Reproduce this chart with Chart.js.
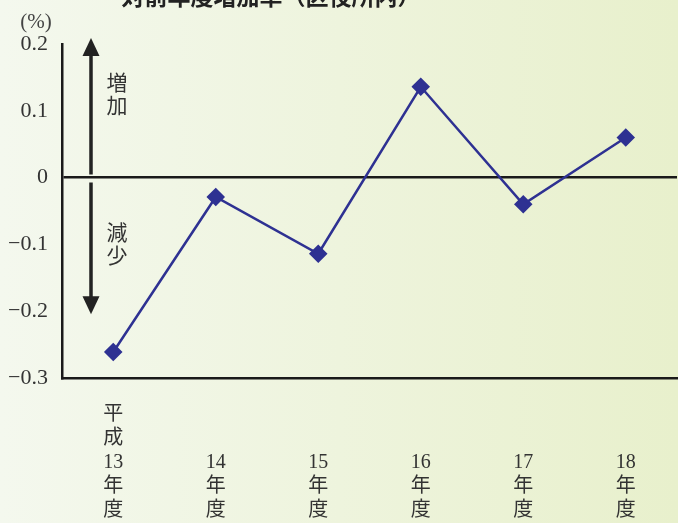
<!DOCTYPE html>
<html>
<head>
<meta charset="utf-8">
<script src="https://cdn.jsdelivr.net/npm/chart.js@4/dist/chart.umd.min.js"></script>
<style>
html,body{margin:0;padding:0;background:#f4f8ec;}
#wrap{width:678px;height:523px;position:relative;}
</style>
</head>
<body>
<div id="wrap"><canvas id="c" width="678" height="523"></canvas></div>
<script>
// ---- data ----
const title = '対前年度増加率（区役所内）';
const unitLabel = '(%)';
const categories = [
  ['平', '成', '13', '年', '度'],
  ['14', '年', '度'],
  ['15', '年', '度'],
  ['16', '年', '度'],
  ['17', '年', '度'],
  ['18', '年', '度']
];
const rates = [-0.261, -0.029, -0.114, 0.136, -0.040, 0.060];
const yMin = -0.3, yMax = 0.2, yStep = 0.1;
const upText = ['増', '加'];
const downText = ['減', '少'];

const serifFont = "'Liberation Serif', 'Noto Sans CJK JP', serif";
const sansFont = "'Noto Sans CJK JP', 'Noto Sans', sans-serif";

const bgPlugin = {
  id: 'bg',
  beforeDraw(chart) {
    const ctx = chart.ctx;
    const g = ctx.createLinearGradient(0, 0, chart.width, 0);
    g.addColorStop(0, '#f4f8ee');
    g.addColorStop(1, '#e8f0cc');
    ctx.save();
    ctx.fillStyle = g;
    ctx.fillRect(0, 0, chart.width, chart.height);
    ctx.restore();
  }
};

function arrowHead(ctx, x, y, dir) {
  ctx.beginPath();
  ctx.moveTo(x, y);
  ctx.lineTo(x - 8.5, y - dir * 18);
  ctx.lineTo(x + 8.5, y - dir * 18);
  ctx.closePath();
  ctx.fill();
}

const annoPlugin = {
  id: 'anno',
  afterDraw(chart) {
    const ctx = chart.ctx;
    const ys = chart.scales.y;
    const area = chart.chartArea;
    ctx.save();
    ctx.fillStyle = '#222';
    ctx.font = "bold 23px " + sansFont;
    ctx.textAlign = 'center';
    ctx.textBaseline = 'middle';
    ctx.fillText(title, 271, -4);
    ctx.font = "21px " + serifFont;
    ctx.fillStyle = '#444';
    ctx.fillText(unitLabel, 36, 22);
    const ax = area.left + 29;
    const yTop = ys.getPixelForValue(yMax) - 6;
    const y0 = ys.getPixelForValue(0);
    const yBot = ys.getPixelForValue(-0.2) + 3;
    ctx.strokeStyle = '#222';
    ctx.fillStyle = '#222';
    ctx.lineWidth = 3.5;
    ctx.beginPath();
    ctx.moveTo(ax, yTop + 14);
    ctx.lineTo(ax, y0 - 3);
    ctx.moveTo(ax, y0 + 5);
    ctx.lineTo(ax, yBot - 14);
    ctx.stroke();
    arrowHead(ctx, ax, yTop, -1);
    arrowHead(ctx, ax, yBot, 1);
    ctx.font = "21px " + sansFont;
    ctx.fillStyle = '#333';
    ctx.textAlign = 'center';
    ctx.textBaseline = 'middle';
    const tx = area.left + 55;
    upText.forEach((t, i) => ctx.fillText(t, tx, ys.getPixelForValue(0.143) + i * 23));
    downText.forEach((t, i) => ctx.fillText(t, tx, ys.getPixelForValue(-0.081) + i * 23));
    ctx.restore();
  }
};

new Chart(document.getElementById('c'), {
  type: 'line',
  data: {
    labels: categories,
    datasets: [{
      data: rates,
      borderColor: '#2e3192',
      backgroundColor: '#2e3192',
      borderWidth: 2.5,
      pointStyle: 'rectRot',
      pointRadius: 7.5,
      pointHoverRadius: 7.5,
      tension: 0,
      clip: false
    }]
  },
  options: {
    responsive: false,
    animation: false,
    devicePixelRatio: 1,
    plugins: { legend: { display: false }, tooltip: { enabled: false } },
    layout: { autoPadding: false, padding: { top: 44, right: 1, left: 0, bottom: 0 } },
    scales: {
      x: {
        offset: true,
        grid: { display: false, drawTicks: false },
        border: { display: true, color: '#1a1a1a', width: 2.5 },
        ticks: {
          color: '#333',
          font: { family: serifFont, size: 20, lineHeight: 1.2 },
          padding: 37,
          crossAlign: 'far',
          maxRotation: 0,
          autoSkip: false
        },
        afterFit(s) { s.height = 145; s.paddingLeft = 0; s.paddingRight = 0; }
      },
      y: {
        min: yMin, max: yMax,
        grid: {
          drawTicks: false,
          color: c => (c.tick && Math.abs(c.tick.value) < 1e-9) ? '#1a1a1a' : 'rgba(0,0,0,0)',
          lineWidth: 2.5
        },
        border: { display: true, color: '#1a1a1a', width: 2.5 },
        ticks: {
          stepSize: yStep,
          color: '#333',
          padding: 14,
          font: { family: serifFont, size: 22 },
          callback: v => {
            const r = Math.round(v * 10) / 10;
            if (r === 0) return '0';
            return r.toFixed(1).replace('-', '\u2212');
          }
        },
        afterFit(s) { s.width = 62; s.paddingTop = 0; s.paddingBottom = 0; }
      }
    }
  },
  plugins: [bgPlugin, annoPlugin]
});
</script>
</body>
</html>
